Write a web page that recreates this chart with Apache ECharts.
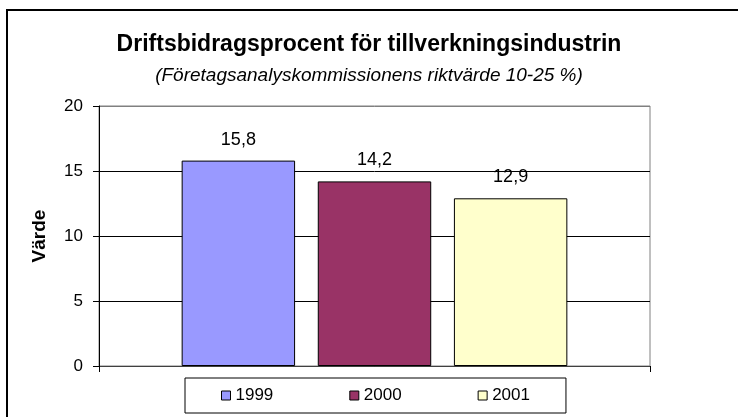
<!DOCTYPE html>
<html>
<head>
<meta charset="utf-8">
<script src="https://cdn.jsdelivr.net/npm/echarts@6/dist/echarts.min.js"></script>
<style>
  html, body { margin: 0; padding: 0; background: #fff; }
  #main { width: 738px; height: 417px; }
</style>
</head>
<body>
<div id="main"></div>
<script>
// data
let years = ['1999', '2000', '2001'];
let values = [15.8, 14.2, 12.9];
let colors = ['#9999FF', '#993366', '#FFFFCC'];
let yTicks = { min: 0, max: 20, interval: 5 };

let myChart = echarts.init(document.getElementById('main'));

myChart.setOption({
    animation: false,
    textStyle: { fontFamily: 'Arial, Liberation Sans, sans-serif' },
    title: {
        text: 'Driftsbidragsprocent för tillverkningsindustrin',
        subtext: '(Företagsanalyskommissionens riktvärde 10-25 %)',
        left: 'center',
        top: 28,
        itemGap: 10,
        textStyle: { fontSize: 23, fontWeight: 'bold', color: '#000' },
        subtextStyle: { fontSize: 19, fontStyle: 'italic', color: '#000' }
    },
    // chart frame
    graphic: [{
        type: 'rect',
        shape: { x: 7, y: 10, width: 800, height: 500 },
        style: { fill: 'none', stroke: '#000', lineWidth: 2 },
        silent: true
    }],
    legend: {
        data: years,
        left: 185,
        top: 378,
        padding: [9, 36, 9, 36],
        itemWidth: 9,
        itemHeight: 9,
        itemGap: 76,
        icon: 'rect',
        borderColor: '#000',
        borderWidth: 1,
        textStyle: { fontSize: 17, color: '#000' },
        itemStyle: { borderColor: '#000', borderWidth: 1 }
    },
    grid: {
        left: 99,
        right: 88,
        top: 106,
        bottom: 51,
        show: true,
        borderColor: '#808080',
        borderWidth: 1
    },
    xAxis: {
        type: 'category',
        data: [''],
        axisLine: { show: true, lineStyle: { color: '#404040', width: 1 } },
        axisTick: { show: true, length: 6, lineStyle: { color: '#000' } },
        axisLabel: { show: false }
    },
    yAxis: {
        type: 'value',
        min: yTicks.min,
        max: yTicks.max,
        interval: yTicks.interval,
        name: 'Värde',
        nameLocation: 'middle',
        nameGap: 50,
        nameRotate: 90,
        nameTextStyle: { fontSize: 19, fontWeight: 'bold', color: '#000' },
        axisLine: { show: true, lineStyle: { color: '#000' } },
        axisTick: { show: true, length: 6, lineStyle: { color: '#000' } },
        axisLabel: { fontSize: 17, color: '#000', margin: 16 },
        splitLine: {
            show: true,
            lineStyle: { color: ['#000', '#000', '#000', '#000', '#808080'], width: 1 }
        }
    },
    series: years.map((y, i) => ({
        name: y,
        type: 'bar',
        data: [values[i]],
        barGap: '20%',
        barCategoryGap: '30%',
        itemStyle: { color: colors[i], borderColor: '#000', borderWidth: 1 },
        label: {
            show: true,
            position: 'top',
            distance: 12,
            fontSize: 18,
            color: '#000',
            formatter: p => String(p.value).replace('.', ',')
        }
    }))
});
</script>
</body>
</html>
